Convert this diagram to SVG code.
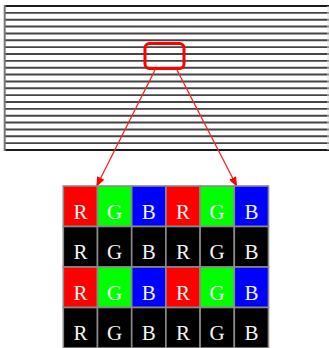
<svg xmlns="http://www.w3.org/2000/svg" width="329" height="348" viewBox="0 0 329 348">
<style>
.hl{stroke:#454545;stroke-width:1.9}
.cell{stroke:#8a8a8a;stroke-width:1.6}
.t{font-family:"Liberation Serif",serif;font-size:21px;fill:#f4f4f4;text-anchor:middle}
.r{fill:#ff0000}.g{fill:#00ff00}.b{fill:#0000ff}.k{fill:#000000}
.conn{stroke:#ff2020;stroke-width:1.3;fill:none}
</style>
<defs>
<marker id="ah" markerWidth="10" markerHeight="8" refX="9" refY="4" orient="auto" markerUnits="userSpaceOnUse">
<path d="M0,0 L10,4 L0,8 Z" fill="#ff0000"/>
</marker>
</defs>
<rect width="329" height="348" fill="#ffffff"/>
<g id="panel">
<rect x="5" y="6" width="323" height="144" fill="#ffffff"/>
<g class="hl">
<line x1="5" y1="6" x2="329" y2="6" stroke="#1a1a1a"/>
<line x1="5" y1="12.86" x2="329" y2="12.86"/>
<line x1="5" y1="19.71" x2="329" y2="19.71"/>
<line x1="5" y1="26.57" x2="329" y2="26.57"/>
<line x1="5" y1="33.43" x2="329" y2="33.43"/>
<line x1="5" y1="40.29" x2="329" y2="40.29"/>
<line x1="5" y1="47.14" x2="329" y2="47.14"/>
<line x1="5" y1="54" x2="329" y2="54"/>
<line x1="5" y1="60.86" x2="329" y2="60.86"/>
<line x1="5" y1="67.71" x2="329" y2="67.71"/>
<line x1="5" y1="74.57" x2="329" y2="74.57"/>
<line x1="5" y1="81.43" x2="329" y2="81.43"/>
<line x1="5" y1="88.29" x2="329" y2="88.29"/>
<line x1="5" y1="95.14" x2="329" y2="95.14"/>
<line x1="5" y1="102" x2="329" y2="102"/>
<line x1="5" y1="108.86" x2="329" y2="108.86"/>
<line x1="5" y1="115.71" x2="329" y2="115.71"/>
<line x1="5" y1="122.57" x2="329" y2="122.57"/>
<line x1="5" y1="129.43" x2="329" y2="129.43"/>
<line x1="5" y1="136.29" x2="329" y2="136.29"/>
<line x1="5" y1="143.14" x2="329" y2="143.14"/>
<line x1="5" y1="150" x2="329" y2="150" stroke="#1a1a1a"/>
</g>
<line x1="4.7" y1="5" x2="4.7" y2="151" stroke="#777777" stroke-width="2"/>
<line x1="328" y1="6" x2="328" y2="150" stroke="#dddddd" stroke-width="1"/>
</g>
<g id="magnifier">
<rect x="145" y="43.5" width="39" height="25" rx="4.5" fill="none" stroke="#ff0000" stroke-width="3"/>
</g>
<g id="connectors">
<line class="conn" x1="155" y1="70" x2="96.7" y2="186" marker-end="url(#ah)"/>
<line class="conn" x1="177" y1="70" x2="236.7" y2="186" marker-end="url(#ah)"/>
</g>
<g id="grid">
<g id="row1">
<rect class="cell r" x="63.3" y="186" width="34.2" height="40.5"/>
<rect class="cell g" x="97.5" y="186" width="34.2" height="40.5"/>
<rect class="cell b" x="131.7" y="186" width="34.2" height="40.5"/>
<rect class="cell r" x="165.9" y="186" width="34.2" height="40.5"/>
<rect class="cell g" x="200.1" y="186" width="34.2" height="40.5"/>
<rect class="cell b" x="234.3" y="186" width="34.2" height="40.5"/>
<text class="t" x="80.4" y="218.5">R</text><text class="t" x="114.6" y="218.5">G</text><text class="t" x="148.8" y="218.5">B</text>
<text class="t" x="183" y="218.5">R</text><text class="t" x="217.2" y="218.5">G</text><text class="t" x="251.4" y="218.5">B</text>
</g>
<g id="row2">
<rect class="cell k" x="63.3" y="226.5" width="34.2" height="40.5"/>
<rect class="cell k" x="97.5" y="226.5" width="34.2" height="40.5"/>
<rect class="cell k" x="131.7" y="226.5" width="34.2" height="40.5"/>
<rect class="cell k" x="165.9" y="226.5" width="34.2" height="40.5"/>
<rect class="cell k" x="200.1" y="226.5" width="34.2" height="40.5"/>
<rect class="cell k" x="234.3" y="226.5" width="34.2" height="40.5"/>
<text class="t" x="80.4" y="259">R</text><text class="t" x="114.6" y="259">G</text><text class="t" x="148.8" y="259">B</text>
<text class="t" x="183" y="259">R</text><text class="t" x="217.2" y="259">G</text><text class="t" x="251.4" y="259">B</text>
</g>
<g id="row3">
<rect class="cell r" x="63.3" y="267" width="34.2" height="40.5"/>
<rect class="cell g" x="97.5" y="267" width="34.2" height="40.5"/>
<rect class="cell b" x="131.7" y="267" width="34.2" height="40.5"/>
<rect class="cell r" x="165.9" y="267" width="34.2" height="40.5"/>
<rect class="cell g" x="200.1" y="267" width="34.2" height="40.5"/>
<rect class="cell b" x="234.3" y="267" width="34.2" height="40.5"/>
<text class="t" x="80.4" y="299.5">R</text><text class="t" x="114.6" y="299.5">G</text><text class="t" x="148.8" y="299.5">B</text>
<text class="t" x="183" y="299.5">R</text><text class="t" x="217.2" y="299.5">G</text><text class="t" x="251.4" y="299.5">B</text>
</g>
<g id="row4">
<rect class="cell k" x="63.3" y="307.5" width="34.2" height="40.5"/>
<rect class="cell k" x="97.5" y="307.5" width="34.2" height="40.5"/>
<rect class="cell k" x="131.7" y="307.5" width="34.2" height="40.5"/>
<rect class="cell k" x="165.9" y="307.5" width="34.2" height="40.5"/>
<rect class="cell k" x="200.1" y="307.5" width="34.2" height="40.5"/>
<rect class="cell k" x="234.3" y="307.5" width="34.2" height="40.5"/>
<text class="t" x="80.4" y="340">R</text><text class="t" x="114.6" y="340">G</text><text class="t" x="148.8" y="340">B</text>
<text class="t" x="183" y="340">R</text><text class="t" x="217.2" y="340">G</text><text class="t" x="251.4" y="340">B</text>
</g>
</g>
</svg>
